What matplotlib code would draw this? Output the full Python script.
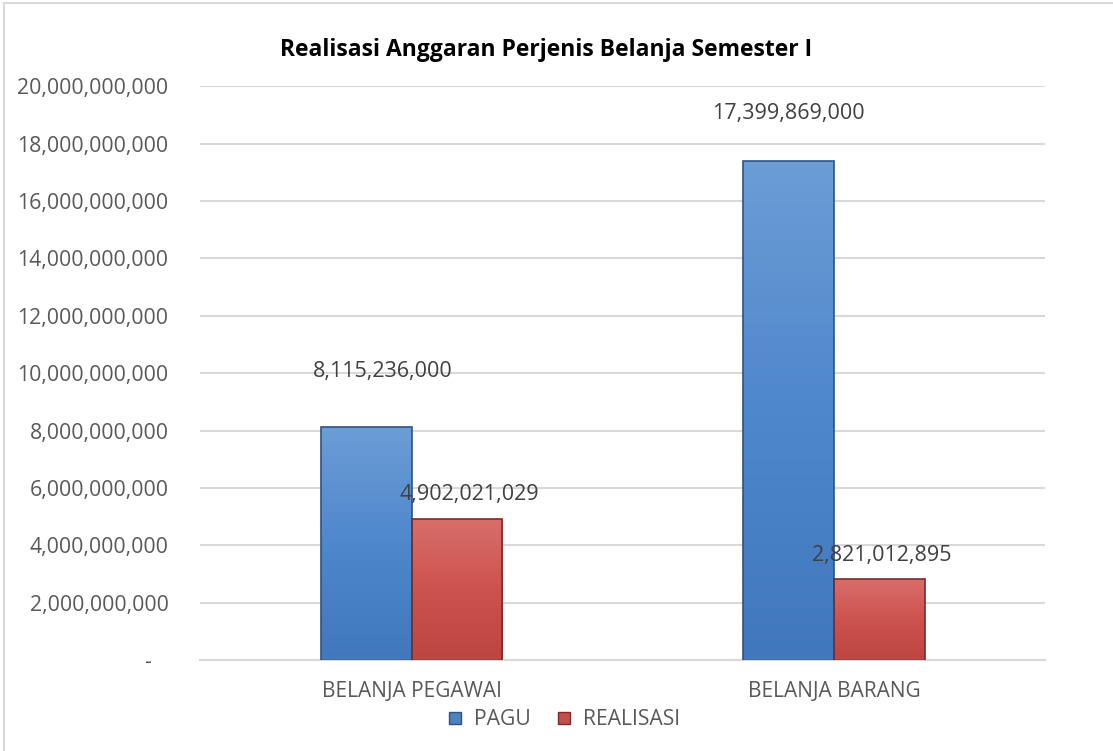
import numpy as np
import matplotlib
matplotlib.use('Agg')
import matplotlib.pyplot as plt
from matplotlib.colors import LinearSegmentedColormap
from matplotlib.ticker import FuncFormatter
from matplotlib.lines import Line2D

plt.rcParams['font.family'] = ['Open Sans', 'DejaVu Sans']

# data
categories = ['BELANJA PEGAWAI', 'BELANJA BARANG']
series_names = ['PAGU', 'REALISASI']
pagu = [8115236000, 17399869000]
realisasi = [4902021029, 2821012895]

# label offsets (points) for data labels, like the original sheet
pagu_offsets = [(12, 40), (0, 34)]
real_offsets = [(9, 18), (2, 17)]

blue_grad = LinearSegmentedColormap.from_list('b', ['#4077bd', '#4f87cd', '#6c9dd5'])
red_grad = LinearSegmentedColormap.from_list('r', ['#bd4541', '#cd524e', '#d86e6a'])

fig = plt.figure(figsize=(11.13, 7.51), dpi=100)
ax = fig.add_axes([0.18, 0.121, 0.759, 0.764])

x = np.arange(len(categories))
w = 0.215


def grad_bars(xs, vals, cmap, edge):
    bars = ax.bar(xs, vals, width=w, color='none', edgecolor=edge, linewidth=1.2, zorder=3)
    grad = np.linspace(0, 1, 256).reshape(-1, 1)
    for b in bars:
        x0, y0 = b.get_x(), b.get_y()
        im = ax.imshow(grad, cmap=cmap, origin='lower', aspect='auto',
                       extent=[x0, x0 + b.get_width(), y0, y0 + b.get_height()],
                       zorder=2)
        im.set_clip_path(b)
    return bars


b1 = grad_bars(x - w / 2, pagu, blue_grad, '#2d5384')
b2 = grad_bars(x + w / 2, realisasi, red_grad, '#7e2a27')

for b, v, off in zip(b1, pagu, pagu_offsets):
    ax.annotate(f'{v:,}', (b.get_x() + b.get_width() / 2, v), xytext=off,
                textcoords='offset points', ha='center', va='center',
                fontsize=15.5, color='#404040')
for b, v, off in zip(b2, realisasi, real_offsets):
    ax.annotate(f'{v:,}', (b.get_x() + b.get_width() / 2, v), xytext=off,
                textcoords='offset points', ha='center', va='center',
                fontsize=15.5, color='#404040')

ax.set_xlim(-0.5, 1.5)
ax.set_ylim(0, 20000000000)
ax.set_yticks(np.arange(0, 20000000001, 2000000000))
ax.yaxis.set_major_formatter(FuncFormatter(lambda v, p: f'{v:,.0f}' if v else '-   '))
ax.set_xticks(x)
ax.set_xticklabels(categories)
ax.tick_params(axis='y', length=0, labelsize=15.3, labelcolor='#595959', pad=23)
ax.tick_params(axis='x', length=0, labelsize=15, labelcolor='#595959', pad=15)
ax.grid(axis='y', color='#d9d9d9', linewidth=1.5, zorder=0)
ax.set_axisbelow(True)
for s in ['top', 'right', 'left']:
    ax.spines[s].set_visible(False)
ax.spines['bottom'].set_color('#d9d9d9')
ax.spines['bottom'].set_linewidth(1.5)

fig.text(0.491, 0.933, 'Realisasi Anggaran Perjenis Belanja Semester I',
         ha='center', va='center', fontsize=16.5, fontweight='bold', color='black')

handles = [Line2D([], [], marker='s', linestyle='none', markersize=9,
                  markerfacecolor=c, markeredgecolor=e)
           for c, e in [('#4f81bd', '#2d5384'), ('#c0504d', '#7e2a27')]]
fig.legend(handles, series_names, loc='center', bbox_to_anchor=(0.506, 0.042),
           ncol=2, frameon=False, fontsize=15.2, labelcolor='#595959',
           handlelength=0.8, handletextpad=0.5, columnspacing=1.2)

# chart area border
fig.add_artist(Line2D([0.004, 0.004], [0, 0.996], color='#d9d9d9', lw=1.5))
fig.add_artist(Line2D([0.004, 1], [0.996, 0.996], color='#d9d9d9', lw=1.5))

fig.savefig('out.png', dpi=100)
